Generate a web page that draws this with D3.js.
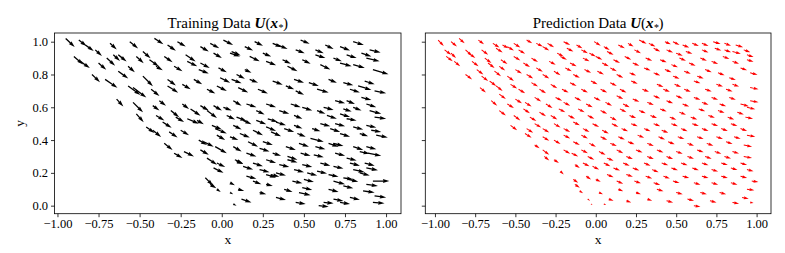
<!DOCTYPE html>
<html>
<head>
<meta charset="utf-8">
<script src="https://cdn.jsdelivr.net/npm/d3@7"></script>
<style>
body { margin: 0; background: #fff; }
svg text { font-family: "Liberation Serif", "Times New Roman", serif; fill: #000; }
</style>
</head>
<body>
<svg id="drawing_region"></svg>
<script>
// tick values shared by both panels
const xTicks = [-1, -0.75, -0.5, -0.25, 0, 0.25, 0.5, 0.75, 1];
const yTicks = [0, 0.2, 0.4, 0.6, 0.8, 1.0];

// training arrows: [x, y, u, v]
const trainArrows = [
 [-0.95,1.02,.055,-.053],[-0.87,1.01,.047,-.037],[-0.83,0.98,.051,-.037],[-0.77,0.95,.041,-.037],[-0.68,0.99,.041,-.037],
 [-0.56,1.00,.051,-.041],[-0.41,1.02,.055,-.035],[-0.33,0.98,.051,-.035],[-0.27,1.00,.051,-.030],[-0.13,0.97,.051,-.030],
 [-0.07,0.99,.055,-.030],[0.01,1.01,.059,-.030],[0.06,0.94,.055,-.024],[0.14,0.97,.051,-.024],[0.20,1.00,.051,-.024],
 [0.31,0.99,.055,-.024],[0.34,0.98,.061,-.024],[0.48,1.01,.055,-.022],[0.57,0.95,.051,-.020],[0.63,0.98,.051,-.024],
 [0.72,0.97,.061,-.024],[0.80,1.00,.065,-.020],[0.90,0.95,.067,-.016],[0.45,0.95,.055,-.020],
 [-0.90,0.91,.057,-.049],[-0.86,0.88,.057,-.041],[-0.75,0.87,.047,-.041],[-0.79,0.80,.049,-.047],[-0.70,0.90,.051,-.047],
 [-0.66,0.92,.041,-.037],[-0.63,0.92,.051,-.041],[-0.57,0.85,.041,-.037],[-0.63,0.82,.061,-.045],[-0.48,0.94,.047,-.041],
 [-0.52,0.91,.045,-.041],[-0.44,0.89,.057,-.041],[-0.35,0.91,.051,-.035],[-0.40,0.85,.041,-.024],[-0.29,0.85,.051,-.030],
 [-0.22,0.92,.061,-.041],[-0.21,0.88,.061,-.030],[-0.13,0.87,.057,-.030],[-0.14,0.83,.061,-.024],[-0.05,0.93,.051,-.030],
 [-0.02,0.84,.051,-.026],[0.05,0.93,.061,-.020],[0.09,0.80,.051,-.026],[0.14,0.83,.041,-.020],[0.17,0.91,.061,-.030],
 [0.25,0.93,.051,-.020],[0.27,0.88,.061,-.024],[0.37,0.89,.051,-.024],[0.40,0.85,.061,-.030],[0.49,0.89,.051,-.024],
 [0.57,0.92,.061,-.020],[0.60,0.86,.061,-.030],[0.68,0.90,.051,-.020],[0.72,0.87,.071,-.020],[0.76,0.92,.061,-.020],
 [0.80,0.86,.071,-.020],[0.85,0.93,.061,-.020],[0.88,0.90,.081,-.020],[0.92,0.83,.095,-.028],
 [-0.71,0.77,.075,-.051],[-0.57,0.73,.075,-.055],[-0.54,0.72,.081,-.061],[-0.48,0.79,.061,-.061],[-0.43,0.71,.051,-.041],
 [-0.33,0.77,.051,-.037],[-0.33,0.73,.065,-.041],[-0.24,0.74,.051,-.030],[-0.17,0.77,.051,-.030],[-0.09,0.71,.051,-.026],
 [-0.03,0.73,.061,-.030],[-0.01,0.78,.061,-.030],[0.06,0.77,.061,-.024],[0.10,0.72,.061,-.030],[0.17,0.77,.051,-.020],
 [0.22,0.71,.061,-.026],[0.31,0.76,.061,-.022],[0.39,0.73,.051,-.020],[0.44,0.77,.061,-.020],[0.45,0.70,.051,-.024],
 [0.53,0.75,.061,-.020],[0.58,0.71,.071,-.020],[0.65,0.77,.051,-.020],[0.74,0.75,.061,-.016],[0.78,0.71,.061,-.020],
 [0.83,0.73,.081,-.024],[0.87,0.76,.061,-.020],[0.93,0.70,.071,-.014],[0.85,0.66,.061,-.016],[0.76,0.64,.051,-.020],
 [0.69,0.64,.061,-.016],
 [-0.64,0.65,.041,-.045],[-0.54,0.63,.061,-.061],[-0.52,0.56,.045,-.051],[-0.42,0.61,.041,-.030],[-0.38,0.64,.041,-.030],
 [-0.40,0.55,.051,-.030],[-0.31,0.58,.051,-.041],[-0.28,0.54,.051,-.030],[-0.24,0.62,.041,-.030],[-0.19,0.59,.061,-.041],
 [-0.13,0.61,.051,-.030],[-0.21,0.53,.071,-.030],[-0.09,0.58,.061,-.045],[-0.05,0.61,.051,-.030],[0.01,0.60,.051,-.020],
 [0.03,0.55,.051,-.024],[0.09,0.54,.061,-.024],[0.07,0.64,.051,-.030],[0.15,0.62,.061,-.020],[0.21,0.58,.051,-.024],
 [0.27,0.62,.061,-.020],[0.28,0.53,.061,-.020],[0.35,0.58,.061,-.020],[0.42,0.62,.061,-.020],[0.44,0.55,.051,-.020],
 [0.49,0.60,.061,-.020],[0.58,0.58,.051,-.020],[0.62,0.60,.061,-.016],[0.64,0.55,.061,-.020],[0.72,0.56,.061,-.020],
 [0.76,0.53,.061,-.010],[0.80,0.60,.051,-.020],[0.88,0.62,.061,-.020],[0.90,0.58,.071,-.020],[0.93,0.54,.071,-.010],
 [0.74,0.59,.051,-.016],
 [-0.46,0.48,.051,-.037],[-0.42,0.46,.051,-.041],[-0.36,0.51,.055,-.035],[-0.32,0.45,.051,-.035],[-0.25,0.46,.051,-.030],
 [-0.15,0.52,.041,-.024],[-0.14,0.40,.051,-.030],[-0.06,0.49,.061,-.026],[-0.04,0.47,.071,-.030],[-0.03,0.43,.051,-.030],
 [0.07,0.49,.051,-.026],[0.05,0.42,.051,-.020],[0.13,0.52,.051,-.024],[0.11,0.44,.061,-.024],[0.21,0.52,.061,-.024],
 [0.19,0.46,.061,-.030],[0.27,0.48,.061,-.024],[0.30,0.45,.061,-.026],[0.33,0.51,.061,-.020],[0.38,0.47,.061,-.020],
 [0.44,0.49,.051,-.020],[0.46,0.44,.051,-.020],[0.55,0.47,.051,-.016],[0.54,0.41,.081,-.020],[0.60,0.50,.061,-.016],
 [0.66,0.47,.061,-.020],[0.69,0.50,.061,-.016],[0.72,0.44,.061,-.020],[0.80,0.48,.061,-.016],[0.84,0.44,.051,-.016],
 [0.88,0.49,.061,-.014],[0.91,0.46,.061,-.010],[0.94,0.43,.071,-.014],[0.68,0.38,.061,-.016],
 [-0.35,0.38,.051,-.041],[-0.29,0.32,.051,-.030],[-0.23,0.33,.061,-.030],[-0.13,0.34,.051,-.030],[-0.11,0.39,.061,-.030],
 [-0.04,0.36,.071,-.041],[-0.09,0.29,.061,-.041],[0.07,0.36,.051,-.030],[0.09,0.27,.041,-.016],[0.16,0.39,.061,-.030],
 [0.15,0.32,.061,-.020],[0.23,0.35,.061,-.020],[0.25,0.39,.061,-.020],[0.31,0.32,.051,-.016],[0.39,0.36,.061,-.020],
 [0.40,0.30,.061,-.020],[0.47,0.38,.061,-.020],[0.48,0.32,.061,-.016],[0.57,0.36,.061,-.016],[0.56,0.31,.061,-.014],
 [0.65,0.38,.061,-.020],[0.69,0.32,.061,-.016],[0.80,0.36,.061,-.020],[0.84,0.33,.061,-.014],[0.88,0.36,.061,-.016],
 [0.89,0.32,.081,-.016],[0.76,0.29,.061,-.014],
 [-0.05,0.23,.061,-.030],[-0.03,0.26,.051,-.024],[0.08,0.28,.051,-.024],[0.13,0.24,.061,-.020],[0.19,0.26,.061,-.020],
 [0.27,0.28,.061,-.020],[0.23,0.22,.061,-.016],[0.27,0.19,.061,-.020],[0.35,0.25,.061,-.014],[0.33,0.20,.061,-.016],
 [0.40,0.28,.061,-.016],[0.44,0.22,.061,-.016],[0.49,0.25,.061,-.014],[0.52,0.20,.061,-.016],[0.58,0.21,.061,-.014],
 [0.60,0.26,.061,-.016],[0.65,0.19,.061,-.014],[0.68,0.24,.061,-.014],[0.74,0.17,.061,-.010],[0.78,0.26,.061,-.016],
 [0.80,0.22,.071,-.016],[0.84,0.20,.061,-.016],[0.87,0.26,.061,-.016],[0.88,0.23,.071,-.014],
 [-0.10,0.17,.047,-.047],[-0.07,0.13,.037,-.024],[-0.03,0.10,.024,-.016],[0.05,0.14,.030,-.016],[0.05,0.08,.020,-.010],
 [0.07,0.01,.020,-.010],[0.10,0.10,.037,-.010],[0.12,0.04,.061,-.020],[0.15,0.18,.061,-.016],[0.19,0.15,.051,-.020],
 [0.23,0.08,.041,-.010],[0.27,0.13,.041,-.010],[0.30,0.19,.051,-.014],[0.38,0.10,.051,-.016],[0.33,0.05,.061,-.016],
 [0.43,0.15,.061,-.014],[0.47,0.08,.071,-.016],[0.49,0.11,.061,-.014],[0.45,0.02,.061,-.010],[0.50,0.16,.061,-.016],
 [0.59,0.00,.061,-.006],[0.62,0.02,.061,-.006],[0.65,0.10,.061,-.016],[0.68,0.04,.061,-.012],[0.68,0.15,.071,-.020],
 [0.74,0.12,.061,-.014],[0.72,0.02,.061,-.010],[0.78,0.05,.061,-.014],[0.77,0.16,.061,-.014],[0.86,0.09,.071,-.010],
 [0.88,0.13,.071,-.010],[0.92,0.15,.100,0],[0.93,0.06,.071,-.010],[0.92,0.02,.071,-.006]
];

// prediction arrows: [x, y, u, v]
const predArrows = [
 [-0.98,1.01,.035,-.037],[-0.90,1.00,.037,-.030],[-0.85,1.02,.035,-.030],[-0.73,1.01,.035,-.026],[-0.64,0.99,.041,-.026],
 [-0.58,0.98,.037,-.020],[-0.51,0.99,.041,-.026],[-0.43,1.01,.035,-.020],[-0.37,0.99,.041,-.020],[-0.30,0.99,.041,-.024],
 [-0.20,1.00,.041,-.020],[-0.12,0.98,.037,-.020],[-0.01,1.00,.041,-.024],[0.05,0.97,.037,-.020],[0.14,0.98,.041,-.020],
 [0.20,0.99,.035,-.020],[0.27,1.01,.046,-.022],[0.33,0.99,.041,-.020],[0.43,1.00,.037,-.016],[0.48,1.00,.041,-.020],
 [0.54,0.98,.041,-.016],[0.60,0.99,.041,-.016],[0.66,0.99,.041,-.016],[0.73,1.00,.046,-.014],[0.80,0.99,.041,-.014],
 [0.87,0.98,.046,-.014],
 [-0.94,0.95,.041,-.030],[-0.90,0.93,.031,-.030],[-0.81,0.95,.041,-.037],[-0.71,0.95,.041,-.030],[-0.62,0.96,.041,-.026],
 [-0.55,0.97,.041,-.024],[-0.48,0.95,.041,-.024],[-0.33,0.97,.041,-.024],[-0.24,0.93,.041,-.020],[-0.18,0.96,.041,-.020],
 [-0.09,0.95,.041,-.020],[-0.04,0.93,.041,-.020],[0.07,0.94,.041,-.020],[0.24,0.95,.041,-.020],[0.36,0.96,.041,-.020],
 [0.44,0.95,.041,-.016],[0.50,0.93,.041,-.016],[0.56,0.94,.041,-.014],[0.66,0.95,.041,-.016],[0.74,0.96,.041,-.014],
 [0.80,0.95,.041,-.014],[0.85,0.94,.052,-.014],[0.92,0.95,.041,-.014],[0.94,0.92,.041,-.014],
 [-0.93,0.91,.041,-.030],[-0.88,0.88,.037,-.030],[-0.79,0.93,.041,-.030],[-0.77,0.88,.041,-.030],[-0.69,0.90,.041,-.030],
 [-0.67,0.87,.041,-.030],[-0.59,0.89,.041,-.026],[-0.51,0.91,.041,-.024],[-0.45,0.87,.041,-.024],[-0.40,0.90,.041,-.024],
 [-0.29,0.88,.041,-.020],[-0.22,0.91,.041,-.020],[-0.16,0.87,.041,-.020],[-0.08,0.90,.041,-.020],[0.00,0.91,.041,-.020],
 [0.04,0.87,.041,-.020],[0.11,0.89,.041,-.020],[0.18,0.91,.041,-.020],[0.23,0.87,.041,-.016],[0.31,0.90,.041,-.016],
 [0.40,0.89,.041,-.016],[0.47,0.86,.041,-.016],[0.52,0.90,.041,-.016],[0.58,0.87,.041,-.016],[0.65,0.90,.041,-.016],
 [0.72,0.88,.041,-.016],[0.79,0.91,.041,-.016],[0.85,0.88,.041,-.014],[0.94,0.89,.041,-.012],
 [-0.81,0.80,.041,-.030],[-0.74,0.83,.041,-.030],[-0.71,0.79,.041,-.030],[-0.63,0.82,.041,-.030],[-0.60,0.85,.037,-.026],
 [-0.55,0.79,.041,-.030],[-0.50,0.83,.041,-.024],[-0.43,0.80,.041,-.024],[-0.37,0.84,.041,-.024],[-0.33,0.80,.041,-.024],
 [-0.26,0.82,.041,-.024],[-0.19,0.84,.041,-.020],[-0.14,0.80,.041,-.020],[-0.07,0.83,.041,-.020],[0.01,0.82,.041,-.020],
 [0.09,0.84,.041,-.020],[0.13,0.80,.041,-.020],[0.21,0.81,.041,-.016],[0.30,0.84,.041,-.016],[0.36,0.81,.041,-.016],
 [0.43,0.83,.041,-.016],[0.48,0.79,.041,-.016],[0.55,0.82,.041,-.016],[0.63,0.79,.041,-.014],[0.68,0.83,.041,-.016],
 [0.76,0.81,.041,-.014],[0.83,0.78,.041,-.014],[0.90,0.84,.041,-.014],[0.96,0.81,.046,-.012],
 [-0.66,0.76,.041,-.030],[-0.72,0.72,.037,-.030],[-0.62,0.73,.041,-.030],[-0.53,0.74,.041,-.026],[-0.48,0.71,.041,-.024],
 [-0.40,0.75,.041,-.024],[-0.35,0.71,.041,-.024],[-0.28,0.74,.041,-.024],[-0.21,0.71,.041,-.020],[-0.16,0.75,.041,-.020],
 [-0.09,0.71,.041,-.020],[-0.03,0.76,.041,-.020],[0.03,0.71,.041,-.020],[0.09,0.75,.041,-.020],[0.15,0.71,.041,-.020],
 [0.22,0.76,.041,-.016],[0.29,0.71,.041,-.016],[0.38,0.74,.041,-.016],[0.42,0.71,.041,-.016],[0.49,0.74,.041,-.016],
 [0.55,0.71,.041,-.016],[0.61,0.76,.041,-.014],[0.68,0.71,.041,-.014],[0.75,0.74,.041,-.014],[0.81,0.71,.041,-.014],
 [0.85,0.74,.041,-.014],[0.96,0.72,.052,-.010],
 [-0.65,0.64,.037,-.030],[-0.60,0.68,.041,-.030],[-0.55,0.62,.041,-.024],[-0.50,0.65,.041,-.026],[-0.44,0.63,.041,-.026],
 [-0.38,0.66,.041,-.024],[-0.31,0.62,.041,-.024],[-0.25,0.66,.041,-.020],[-0.20,0.63,.041,-.020],[-0.13,0.66,.041,-.020],
 [-0.06,0.62,.041,-.020],[-0.01,0.66,.041,-.020],[0.06,0.63,.041,-.020],[0.13,0.67,.041,-.020],[0.17,0.62,.041,-.020],
 [0.23,0.65,.041,-.016],[0.32,0.63,.041,-.016],[0.36,0.67,.041,-.016],[0.44,0.64,.041,-.016],[0.50,0.67,.041,-.016],
 [0.54,0.62,.041,-.016],[0.61,0.66,.041,-.014],[0.66,0.63,.041,-.014],[0.72,0.66,.041,-.014],[0.77,0.62,.041,-.014],
 [0.83,0.66,.041,-.014],[0.90,0.62,.052,-.014],[0.96,0.64,.052,-.010],
 [-0.60,0.58,.041,-.030],[-0.51,0.55,.041,-.030],[-0.45,0.59,.041,-.026],[-0.41,0.54,.041,-.024],[-0.35,0.57,.041,-.024],
 [-0.28,0.55,.041,-.024],[-0.23,0.59,.041,-.020],[-0.17,0.55,.041,-.020],[-0.11,0.59,.041,-.020],[-0.05,0.55,.041,-.020],
 [0.03,0.58,.041,-.020],[0.09,0.54,.041,-.020],[0.15,0.59,.041,-.020],[0.21,0.55,.041,-.016],[0.27,0.58,.041,-.016],
 [0.34,0.55,.041,-.016],[0.40,0.59,.041,-.016],[0.46,0.54,.041,-.016],[0.52,0.57,.041,-.016],[0.59,0.54,.041,-.014],
 [0.64,0.59,.041,-.014],[0.70,0.55,.041,-.014],[0.76,0.58,.041,-.014],[0.82,0.54,.041,-.014],[0.88,0.57,.041,-.014],
 [0.93,0.54,.048,-.010],[0.94,0.60,.052,-.012],
 [-0.53,0.49,.041,-.030],[-0.43,0.47,.041,-.026],[-0.38,0.50,.041,-.024],[-0.33,0.47,.041,-.024],[-0.26,0.50,.041,-.024],
 [-0.20,0.47,.041,-.020],[-0.14,0.51,.041,-.020],[-0.08,0.47,.041,-.020],[-0.02,0.50,.041,-.020],[0.04,0.46,.041,-.020],
 [0.10,0.50,.041,-.020],[0.16,0.47,.041,-.016],[0.22,0.50,.041,-.016],[0.30,0.47,.041,-.016],[0.36,0.50,.041,-.016],
 [0.41,0.46,.041,-.016],[0.47,0.50,.041,-.016],[0.53,0.47,.041,-.016],[0.60,0.50,.041,-.014],[0.66,0.47,.041,-.014],
 [0.72,0.50,.041,-.014],[0.78,0.47,.041,-.014],[0.84,0.50,.041,-.014],[0.90,0.47,.041,-.014],[0.94,0.43,.052,-.010],
 [-0.44,0.44,.041,-.026],[-0.38,0.37,.031,-.020],[-0.33,0.42,.041,-.024],[-0.26,0.40,.041,-.024],[-0.20,0.43,.041,-.020],
 [-0.14,0.39,.041,-.020],[-0.09,0.43,.041,-.020],[-0.04,0.38,.041,-.020],[0.03,0.42,.041,-.020],[0.09,0.38,.041,-.016],
 [0.14,0.42,.041,-.016],[0.20,0.39,.041,-.016],[0.26,0.43,.041,-.016],[0.32,0.38,.041,-.016],[0.39,0.42,.041,-.016],
 [0.45,0.39,.041,-.016],[0.51,0.42,.041,-.014],[0.57,0.38,.041,-.014],[0.63,0.42,.041,-.014],[0.69,0.38,.041,-.014],
 [0.75,0.42,.041,-.014],[0.81,0.39,.041,-.014],[0.86,0.42,.041,-.012],[0.92,0.37,.052,-.010],
 [-0.33,0.34,.041,-.030],[-0.32,0.30,.031,-.024],[-0.26,0.28,.031,-.020],[-0.20,0.34,.041,-.024],[-0.15,0.32,.041,-.020],
 [-0.09,0.34,.041,-.020],[-0.05,0.30,.041,-.020],[0.02,0.33,.041,-.020],[0.07,0.29,.041,-.016],[0.13,0.34,.041,-.020],
 [0.19,0.30,.041,-.016],[0.25,0.34,.041,-.016],[0.32,0.30,.041,-.016],[0.38,0.34,.041,-.016],[0.44,0.30,.041,-.016],
 [0.50,0.33,.041,-.014],[0.57,0.30,.041,-.014],[0.63,0.34,.041,-.014],[0.68,0.30,.041,-.014],[0.74,0.33,.041,-.014],
 [0.80,0.30,.041,-.012],[0.85,0.33,.041,-.012],[0.92,0.30,.052,-.010],
 [-0.22,0.21,.021,-.020],[-0.13,0.25,.031,-.020],[-0.08,0.26,.041,-.020],[-0.02,0.24,.041,-.020],[0.05,0.26,.041,-.020],
 [0.11,0.23,.041,-.016],[0.17,0.26,.041,-.016],[0.23,0.23,.041,-.016],[0.30,0.26,.041,-.016],[0.35,0.22,.041,-.016],
 [0.41,0.26,.041,-.014],[0.47,0.23,.041,-.014],[0.53,0.26,.041,-.014],[0.60,0.23,.041,-.014],[0.66,0.26,.041,-.014],
 [0.72,0.22,.041,-.012],[0.78,0.26,.041,-.012],[0.84,0.23,.041,-.012],[0.90,0.26,.041,-.012],[0.94,0.22,.041,-.010],
 [-0.14,0.16,.031,-.020],[-0.13,0.13,.031,-.020],[-0.06,0.18,.031,-.020],[0.00,0.16,.031,-.014],[0.07,0.19,.041,-.016],
 [0.13,0.15,.041,-.016],[0.19,0.19,.041,-.014],[0.24,0.15,.041,-.014],[0.31,0.18,.041,-.014],[0.36,0.14,.041,-.014],
 [0.42,0.18,.041,-.014],[0.48,0.15,.041,-.012],[0.54,0.18,.041,-.012],[0.61,0.14,.041,-.012],[0.66,0.18,.041,-.012],
 [0.72,0.14,.041,-.012],[0.78,0.18,.041,-.012],[0.84,0.14,.041,-.012],[0.90,0.18,.041,-.012],[0.97,0.15,.041,-.006],
 [-0.10,0.09,.021,-.014],[-0.05,0.04,.015,-.010],[-0.03,0.01,.010,-.006],[0.02,0.08,.025,-.010],[0.05,0.01,.015,-.006],
 [0.08,0.04,.031,-.010],[0.14,0.10,.031,-.012],[0.19,0.03,.031,-.010],[0.25,0.08,.031,-.010],[0.32,0.04,.031,-.010],
 [0.38,0.10,.041,-.012],[0.44,0.03,.041,-.010],[0.50,0.08,.041,-.010],[0.57,0.04,.041,-.010],[0.61,0.00,.041,-.006],
 [0.65,0.08,.041,-.010],[0.71,0.03,.041,-.010],[0.77,0.08,.041,-.010],[0.85,0.02,.041,-.008],[0.91,0.05,.041,-.008],
 [0.94,0.10,.046,-.006],[0.96,0.02,.021,-.004]
];

class QuiverPanel {

    constructor( config, data ) {
        this.config = {
            svg: config.svg,
            left: config.left,
            right: config.right,
            top: config.top || 33,
            bottom: config.bottom || 213.7,
            xdomain: config.xdomain,
            ydomain: config.ydomain || [-0.049, 1.053],
            color: config.color || 'black',
            width: config.width || 1.3,
            title: config.title,
            ylabels: config.ylabels
        };
        this.data = data;
        this.init();
    }

    init() {
        let self = this;
        let c = self.config;

        self.g = c.svg.append('g');

        self.xscale = d3.scaleLinear()
            .domain( c.xdomain )
            .range( [c.left, c.right] );

        self.yscale = d3.scaleLinear()
            .domain( c.ydomain )
            .range( [c.bottom, c.top] );

        self.xaxis = d3.axisBottom( self.xscale )
            .tickValues( xTicks )
            .tickFormat( d3.format('.2f') )
            .tickSize( 3.5 )
            .tickPadding( 1.5 );

        self.yaxis = d3.axisLeft( self.yscale )
            .tickValues( yTicks )
            .tickFormat( c.ylabels ? d3.format('.1f') : '' )
            .tickSize( 3.5 )
            .tickPadding( 3 );
    }

    arrowPath( len, w ) {
        let hw = 1.5 * w, hl = 5 * w, ha = 4.5 * w;
        if ( len < hl ) {
            const k = len / hl;
            w *= k; hw *= k; hl *= k; ha *= k;
        }
        const h = w / 2;
        return `M0,${-h}L${len-ha},${-h}L${len-hl},${-hw}L${len},0L${len-hl},${hw}L${len-ha},${h}L0,${h}Z`;
    }

    render() {
        let self = this;
        let c = self.config;

        self.g.append('g')
            .selectAll('path')
            .data( self.data )
            .join('path')
            .attr('d', d => {
                const dx = self.xscale(d[0] + d[2]) - self.xscale(d[0]);
                const dy = self.yscale(d[1] + d[3]) - self.yscale(d[1]);
                return self.arrowPath( Math.hypot(dx, dy), c.width );
            })
            .attr('transform', d => {
                const dx = self.xscale(d[0] + d[2]) - self.xscale(d[0]);
                const dy = self.yscale(d[1] + d[3]) - self.yscale(d[1]);
                const ang = Math.atan2(dy, dx) * 180 / Math.PI;
                return `translate(${self.xscale(d[0])},${self.yscale(d[1])}) rotate(${ang})`;
            })
            .attr('fill', c.color);

        const xg = self.g.append('g')
            .attr('transform', `translate(0, ${c.bottom})`)
            .call( self.xaxis );
        const yg = self.g.append('g')
            .attr('transform', `translate(${c.left}, 0)`)
            .call( self.yaxis );

        [xg, yg].forEach( g => {
            g.select('.domain').remove();
            g.selectAll('line').attr('stroke', '#000').attr('stroke-width', 0.8);
            g.selectAll('text')
                .attr('font-family', '"Liberation Serif", serif')
                .attr('font-size', 12.5)
                .attr('fill', '#000');
        });

        self.g.append('rect')
            .attr('x', c.left)
            .attr('y', c.top)
            .attr('width', c.right - c.left)
            .attr('height', c.bottom - c.top)
            .attr('fill', 'none')
            .attr('stroke', '#000')
            .attr('stroke-width', 0.8);

        const cx = (c.left + c.right) / 2;
        const t = self.g.append('text')
            .attr('x', cx)
            .attr('y', 28)
            .attr('text-anchor', 'middle')
            .attr('font-size', 15);
        t.append('tspan').text(c.title + ' ');
        t.append('tspan').attr('font-weight', 'bold').attr('font-style', 'italic').text('U');
        t.append('tspan').text('(');
        t.append('tspan').attr('font-weight', 'bold').attr('font-style', 'italic').text('x');
        t.append('tspan').attr('font-style', 'italic').attr('font-size', 10).attr('dy', 3).text('*');
        t.append('tspan').attr('dy', -3).text(')');

        self.g.append('text')
            .attr('x', cx)
            .attr('y', 244)
            .attr('text-anchor', 'middle')
            .attr('font-size', 13.5)
            .text('x');

        if ( c.ylabels ) {
            self.g.append('text')
                .attr('transform', `translate(24, ${(c.top + c.bottom) / 2}) rotate(-90)`)
                .attr('text-anchor', 'middle')
                .attr('font-size', 13.5)
                .text('y');
        }
    }
}

const svg = d3.select('#drawing_region')
    .attr('width', 785)
    .attr('height', 253);

const left = new QuiverPanel( {
    svg: svg, left: 54.5, right: 401, xdomain: [-1.018, 1.091],
    color: '#000000', width: 1.3, title: 'Training Data', ylabels: true
}, trainArrows );
left.render();

const right = new QuiverPanel( {
    svg: svg, left: 425.3, right: 771, xdomain: [-1.06, 1.0895],
    color: '#ff0000', width: 1.0, title: 'Prediction Data', ylabels: false
}, predArrows );
right.render();
</script>
</body>
</html>
